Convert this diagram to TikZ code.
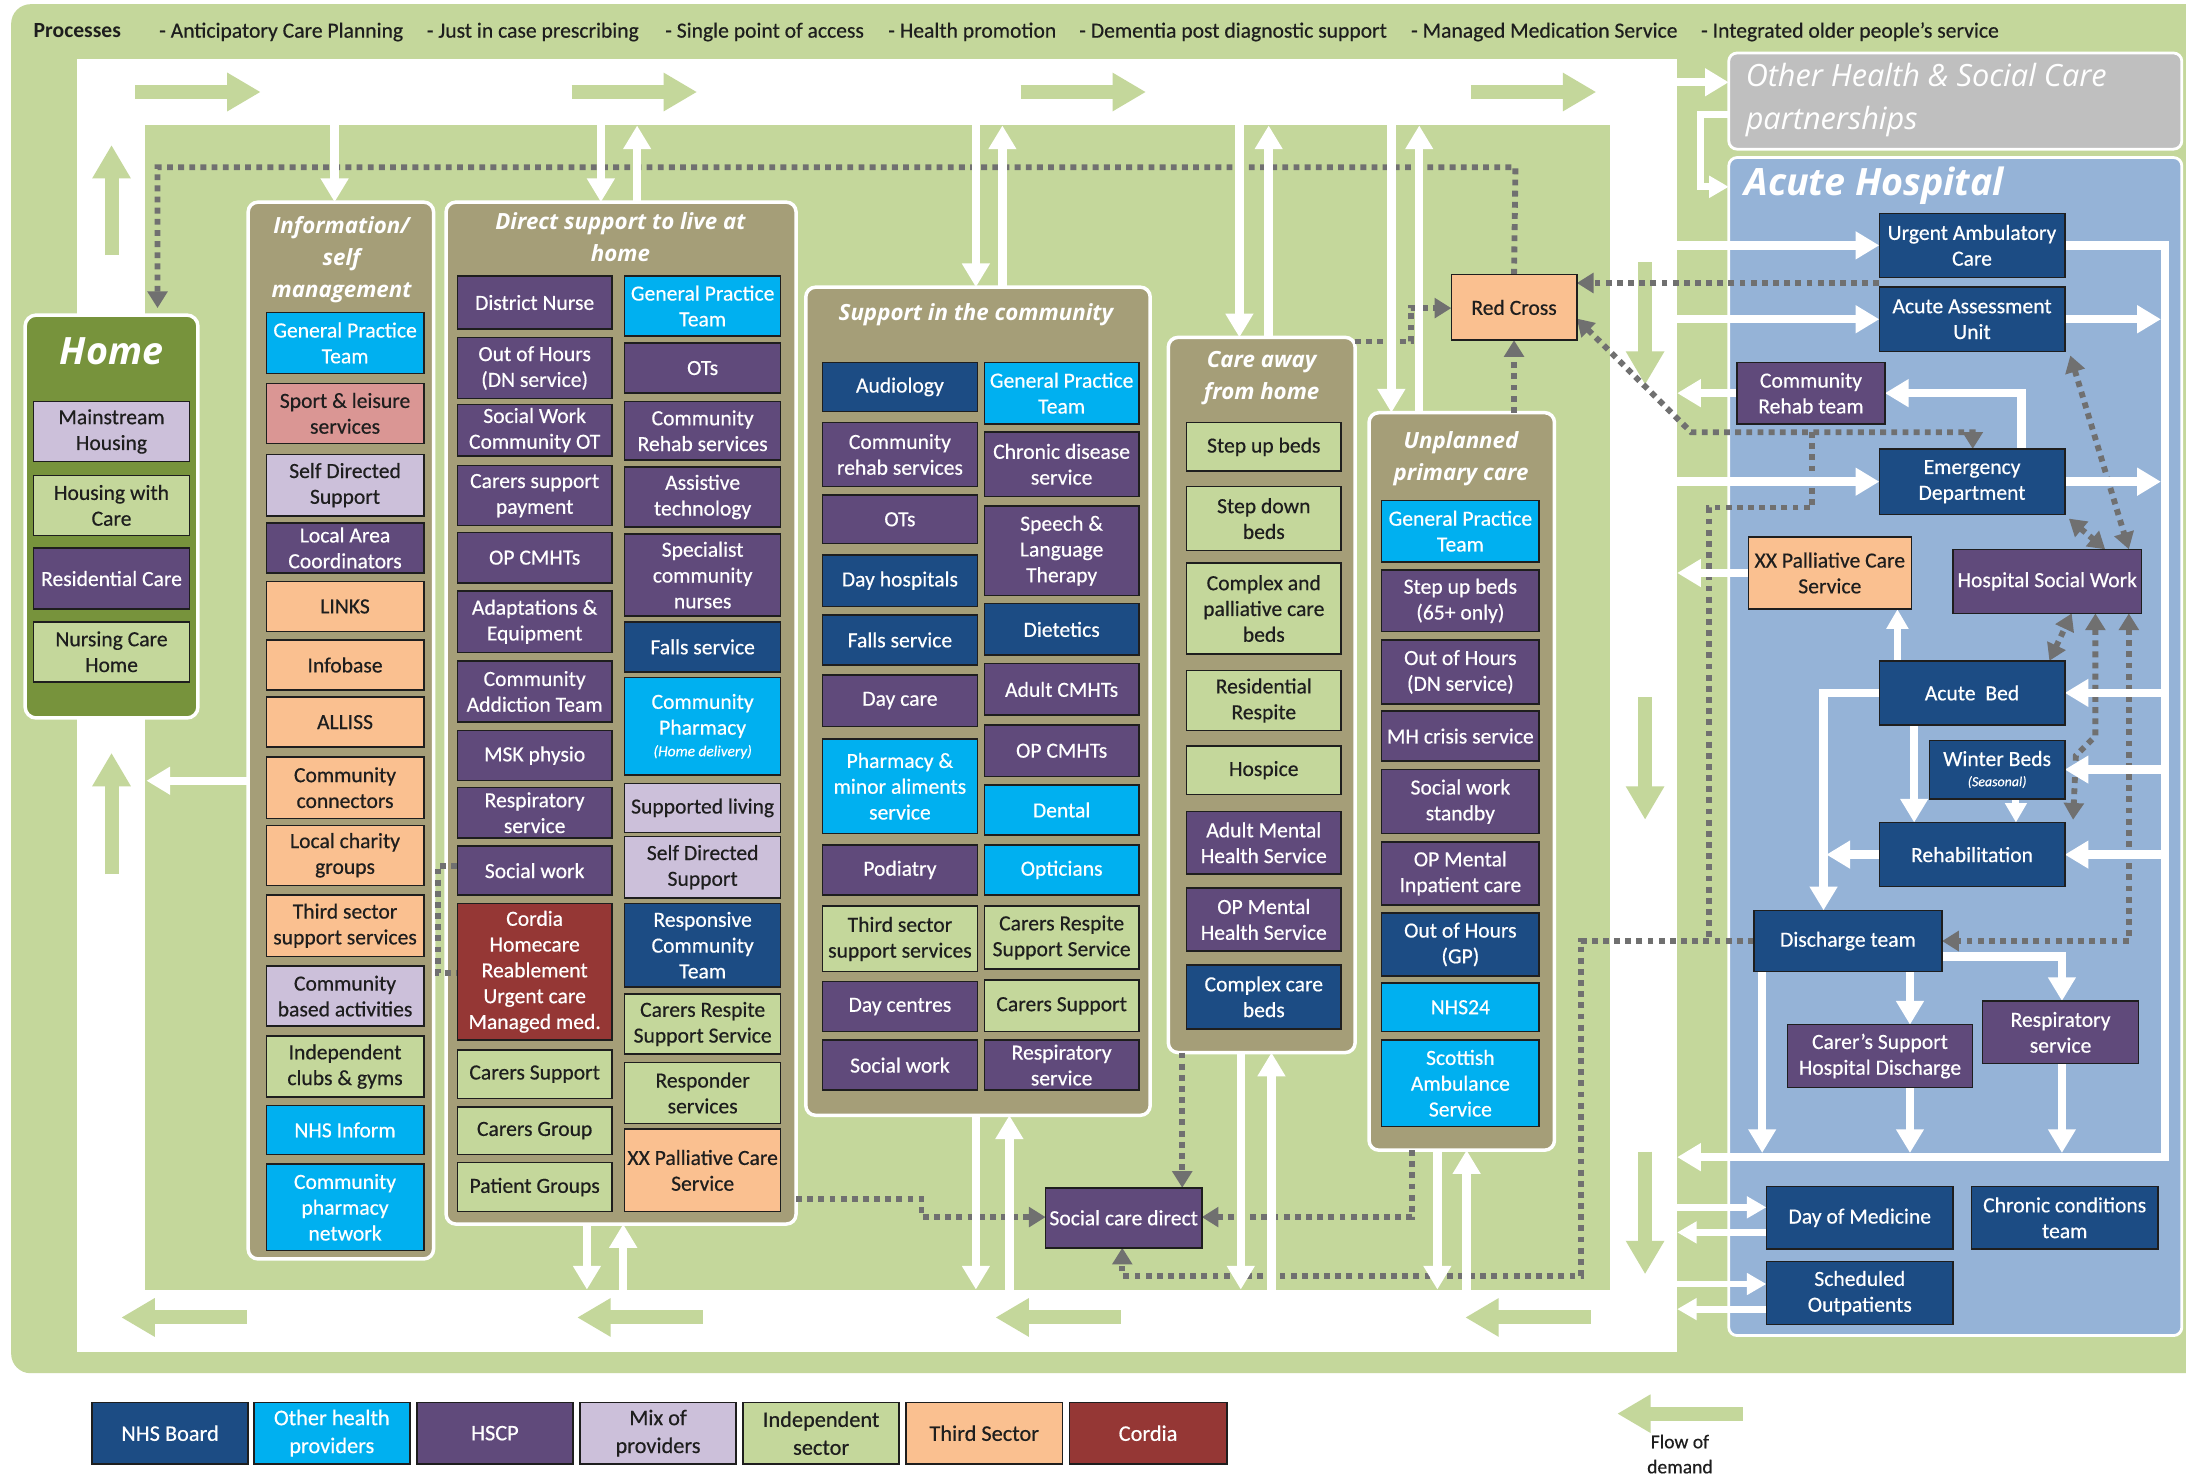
\documentclass[tikz,border=0pt]{standalone}
\usepackage{fontspec}
\setmainfont{Carlito}
\newfontfamily\boxfont{Carlito}[FakeBold=0.45]
\newfontfamily\hdr{Open Sans}
\usetikzlibrary{arrows.meta}
\definecolor{cGrn}{HTML}{C4D79B}
\definecolor{cOlive}{HTML}{77933C}
\definecolor{cTan}{HTML}{A59E78}
\definecolor{cNHS}{HTML}{1C4C84}
\definecolor{cOTH}{HTML}{00B0F0}
\definecolor{cHSCP}{HTML}{604A7B}
\definecolor{cMIX}{HTML}{CCC0DA}
\definecolor{cIND}{HTML}{C4D79B}
\definecolor{cTHIRD}{HTML}{FAC090}
\definecolor{cCOR}{HTML}{953735}
\definecolor{cSPORT}{HTML}{DA9694}
\definecolor{cAcute}{HTML}{95B3D7}
\definecolor{cGray}{HTML}{BFBFBF}
\definecolor{cDot}{HTML}{707070}
\definecolor{cTxt}{HTML}{1E1E1E}
\pgfdeclarelayer{bg}
\pgfdeclarelayer{lines}
\pgfsetlayers{bg,lines,main}
\tikzset{
 base/.style={draw=cTxt, line width=1.1pt, align=center, inner sep=0.5pt, outer sep=0pt, font=\boxfont\fontsize{15.5}{18.5}\selectfont},
 sNHS/.style={base, fill=cNHS, text=white},
 sOTH/.style={base, fill=cOTH, text=white},
 sHSCP/.style={base, fill=cHSCP, text=white},
 sMIX/.style={base, fill=cMIX, text=cTxt},
 sIND/.style={base, fill=cIND, text=cTxt},
 sTHIRD/.style={base, fill=cTHIRD, text=cTxt},
 sCOR/.style={base, fill=cCOR, text=white},
 sSPORT/.style={base, fill=cSPORT, text=cTxt},
 leg/.style={font=\boxfont\fontsize{16}{20}\selectfont},
 colbox/.style={fill=cTan, draw=white, line width=2.5pt, rounded corners=7pt, inner sep=0pt, outer sep=0pt},
 homebox/.style={fill=cOlive, draw=white, line width=2.5pt, rounded corners=8pt, inner sep=0pt, outer sep=0pt},
 acutebox/.style={fill=cAcute, draw=white, line width=2pt, rounded corners=6pt, inner sep=0pt, outer sep=0pt},
 ohscbox/.style={fill=cGray, draw=white, line width=2pt, rounded corners=6pt, inner sep=0pt, outer sep=0pt},
 coltitle/.style={text=white, align=center, font=\hdr\bfseries\itshape\fontsize{16}{23}\selectfont, inner sep=0pt},
 warrow/.style={draw=white, line width=6pt, line join=miter, -{Triangle[width=19pt,length=17pt]}},
 warrowS/.style={draw=white, line width=5pt, -{Triangle[width=15pt,length=14pt]}},
 garrow/.style={draw=cGrn, line width=10pt, -{Triangle[width=26pt,length=24pt]}},
 dotl/.style={draw=cDot, line width=4.2pt, dash pattern=on 4.2pt off 3.8pt},
 dtip/.style={-{Triangle[width=14pt,length=12pt]}},
 dtips/.style={{Triangle[width=14pt,length=12pt]}-{Triangle[width=14pt,length=12pt]}},
 ptxt/.style={anchor=base west, inner sep=0pt, text=cTxt, font=\boxfont\fontsize{15.5}{18}\selectfont},
}
\newcommand\bx[7]{\node[#2, minimum width={(#5)-(#3)}, minimum height={(#6)-(#4)}] (#1) at ({((#3)+(#5))/2},{((#4)+(#6))/2}) {#7};}
\begin{document}
\begin{tikzpicture}[x=1pt,y=-1pt]
\useasboundingbox (0,0) rectangle (1568,1059);
\begin{pgfonlayer}{bg}
\fill[white] (0,0) rectangle (1568,1059);
\fill[cGrn, rounded corners=14pt] (8,3) rectangle (1600,985);
\fill[white] (55,42) rectangle (1203,970);
\fill[cGrn] (104,90) rectangle (1155,925);
% flow arrows
\draw[garrow] (97,66) -- (187,66);
\draw[garrow] (410,66) -- (500,66);
\draw[garrow] (732,66) -- (822,66);
\draw[garrow] (1055,66) -- (1145,66);
\draw[garrow] (80,183) -- (80,104);
\draw[garrow] (80,627) -- (80,540);
\draw[garrow] (177,945) -- (87,945);
\draw[garrow] (504,945) -- (414,945);
\draw[garrow] (804,945) -- (714,945);
\draw[garrow] (1141,945) -- (1051,945);
\draw[garrow] (1180,188) -- (1180,276);
\draw[garrow] (1180,500) -- (1180,588);
\draw[garrow] (1180,826) -- (1180,914);
% containers
\bx{home}{homebox}{18}{226}{142}{515}{}
\bx{colI}{colbox}{178}{145}{311}{903}{}
\bx{colD}{colbox}{320}{145}{571}{878}{}
\bx{colC}{colbox}{578}{206}{825}{800}{}
\bx{colA}{colbox}{838}{242}{972}{755}{}
\bx{colU}{colbox}{982}{296}{1115}{825}{}
\bx{ohsc}{ohscbox}{1240}{38}{1565}{107}{}
\bx{acute}{acutebox}{1240}{113}{1565}{958}{}
\end{pgfonlayer}

% top processes
\node[ptxt, font=\fontsize{15.5}{18}\selectfont\bfseries] (p0) at (24,27) {Processes};
\node[ptxt] (p1) at (114,27) {- Anticipatory Care Planning};
\node[ptxt] (p2) at (306,27) {- Just in case prescribing};
\node[ptxt] (p3) at (477,27) {- Single point of access};
\node[ptxt] (p4) at (637,27) {- Health promotion};
\node[ptxt] (p5) at (774,27) {- Dementia post diagnostic support};
\node[ptxt] (p6) at (1012,27) {- Managed Medication Service};
\node[ptxt] (p7) at (1220,27) {- Integrated older people’s service};

% titles
\node[text=white, inner sep=0pt, font=\hdr\bfseries\itshape\fontsize{27}{30}\selectfont] (thome) at (80,252) {Home};
\node[coltitle] (tI) at (245,186) {Information/\\self\\management};
\node[coltitle] (tD) at (445,170) {Direct support to live at\\home};
\node[coltitle] (tC) at (700,226) {Support in the community};
\node[coltitle] (tA) at (905,271) {Care away\\from home};
\node[coltitle] (tU) at (1048,329) {Unplanned\\primary care};
\node[anchor=west, inner sep=0pt, text=white, align=left, font=\hdr\itshape\fontsize{22}{31}\selectfont] (tOH) at (1252,72) {Other Health \& Social Care\\partnerships};
\node[anchor=west, inner sep=0pt, text=white, font=\hdr\bfseries\itshape\fontsize{27}{30}\selectfont] (tAH) at (1251,133) {Acute Hospital};

% Home
\bx{hm1}{sMIX}{24}{288}{136}{331}{Mainstream\\Housing}
\bx{hm2}{sIND}{24}{341}{136}{384}{Housing with\\Care}
\bx{hm3}{sHSCP}{24}{393}{136}{437}{Residential Care}
\bx{hm4}{sIND}{24}{446}{136}{489}{Nursing Care\\Home}

% Information
\bx{i1}{sOTH}{191}{224}{304}{268}{General Practice\\Team}
\bx{i2}{sSPORT}{191}{275}{304}{318}{Sport \& leisure\\services}
\bx{i3}{sMIX}{191}{326}{304}{370}{Self Directed\\Support}
\bx{i4}{sHSCP}{191}{375}{304}{411}{Local Area\\Coordinators}
\bx{i5}{sTHIRD}{191}{417}{304}{453}{LINKS}
\bx{i6}{sTHIRD}{191}{459}{304}{495}{Infobase}
\bx{i7}{sTHIRD}{191}{500}{304}{536}{ALLISS}
\bx{i8}{sTHIRD}{191}{543}{304}{587}{Community\\connectors}
\bx{i9}{sTHIRD}{191}{592}{304}{635}{Local charity\\groups}
\bx{i10}{sTHIRD}{191}{642}{304}{686}{Third sector\\support services}
\bx{i11}{sMIX}{191}{693}{304}{736}{Community\\based activities}
\bx{i12}{sIND}{191}{743}{304}{787}{Independent\\clubs \& gyms}
\bx{i13}{sOTH}{191}{793}{304}{828}{NHS Inform}
\bx{i14}{sOTH}{191}{835}{304}{897}{Community\\pharmacy\\network}

% Direct support left
\bx{d1}{sHSCP}{328}{198}{439}{236}{District Nurse}
\bx{d2}{sHSCP}{328}{242}{439}{286}{Out of Hours\\(DN service)}
\bx{d3}{sHSCP}{328}{290}{439}{327}{Social Work\\Community OT}
\bx{d4}{sHSCP}{328}{334}{439}{377}{Carers support\\payment}
\bx{d5}{sHSCP}{328}{382}{439}{418}{OP CMHTs}
\bx{d6}{sHSCP}{328}{424}{439}{468}{Adaptations \&\\Equipment}
\bx{d7}{sHSCP}{328}{474}{439}{518}{Community\\Addiction Team}
\bx{d8}{sHSCP}{328}{524}{439}{560}{MSK physio}
\bx{d9}{sHSCP}{328}{565}{439}{601}{Respiratory\\service}
\bx{d10}{sHSCP}{328}{607}{439}{642}{Social work}
\bx{d11}{sCOR}{328}{648}{439}{746}{Cordia\\Homecare\\Reablement\\Urgent care\\Managed med.}
\bx{d12}{sIND}{328}{753}{439}{788}{Carers Support}
\bx{d13}{sIND}{328}{794}{439}{828}{Carers Group}
\bx{d14}{sIND}{328}{834}{439}{869}{Patient Groups}
% Direct support right
\bx{e1}{sOTH}{448}{198}{560}{241}{General Practice\\Team}
\bx{e2}{sHSCP}{448}{246}{560}{282}{OTs}
\bx{e3}{sHSCP}{448}{288}{560}{330}{Community\\Rehab services}
\bx{e4}{sHSCP}{448}{335}{560}{378}{Assistive\\technology}
\bx{e5}{sHSCP}{448}{383}{560}{442}{Specialist\\community\\nurses}
\bx{e6}{sNHS}{448}{446}{560}{482}{Falls service}
\bx{e7}{sOTH}{448}{486}{560}{556}{Community\\Pharmacy\\[-3pt]{\fontsize{11}{12}\selectfont\itshape (Home delivery)}}
\bx{e8}{sMIX}{448}{562}{560}{597}{Supported living}
\bx{e9}{sMIX}{448}{600}{560}{644}{Self Directed\\Support}
\bx{e10}{sNHS}{448}{648}{560}{708}{Responsive\\Community\\Team}
\bx{e11}{sIND}{448}{713}{560}{756}{Carers Respite\\Support Service}
\bx{e12}{sIND}{448}{762}{560}{806}{Responder\\services}
\bx{e13}{sTHIRD}{448}{810}{560}{869}{XX Palliative Care\\Service}

% Community left
\bx{c1}{sNHS}{590}{260}{701}{295}{Audiology}
\bx{c2}{sHSCP}{590}{303}{701}{349}{Community\\rehab services}
\bx{c3}{sHSCP}{590}{355}{701}{390}{OTs}
\bx{c4}{sNHS}{590}{398}{701}{435}{Day hospitals}
\bx{c5}{sNHS}{590}{441}{701}{477}{Falls service}
\bx{c6}{sHSCP}{590}{484}{701}{521}{Day care}
\bx{c7}{sOTH}{590}{530}{701}{598}{Pharmacy \&\\minor aliments\\service}
\bx{c8}{sHSCP}{590}{606}{701}{642}{Podiatry}
\bx{c9}{sIND}{590}{650}{701}{697}{Third sector\\support services}
\bx{c10}{sHSCP}{590}{704}{701}{740}{Day centres}
\bx{c11}{sHSCP}{590}{746}{701}{782}{Social work}
% Community right
\bx{k1}{sOTH}{706}{260}{817}{304}{General Practice\\Team}
\bx{k2}{sHSCP}{706}{310}{817}{356}{Chronic disease\\service}
\bx{k3}{sHSCP}{706}{363}{817}{427}{Speech \&\\Language\\Therapy}
\bx{k4}{sNHS}{706}{433}{817}{470}{Dietetics}
\bx{k5}{sHSCP}{706}{476}{817}{513}{Adult CMHTs}
\bx{k6}{sHSCP}{706}{520}{817}{557}{OP CMHTs}
\bx{k7}{sOTH}{706}{563}{817}{599}{Dental}
\bx{k8}{sOTH}{706}{606}{817}{642}{Opticians}
\bx{k9}{sIND}{706}{650}{817}{695}{Carers Respite\\Support Service}
\bx{k10}{sIND}{706}{703}{817}{740}{Carers Support}
\bx{k11}{sHSCP}{706}{746}{817}{782}{Respiratory\\service}

% Care away from home
\bx{a1}{sIND}{851}{303}{962}{338}{Step up beds}
\bx{a2}{sIND}{851}{349}{962}{395}{Step down\\beds}
\bx{a3}{sIND}{851}{404}{962}{469}{Complex and\\palliative care\\beds}
\bx{a4}{sIND}{851}{481}{962}{524}{Residential\\Respite}
\bx{a5}{sIND}{851}{535}{962}{570}{Hospice}
\bx{a6}{sHSCP}{851}{582}{962}{627}{Adult Mental\\Health Service}
\bx{a7}{sHSCP}{851}{637}{962}{682}{OP Mental\\Health Service}
\bx{a8}{sNHS}{851}{692}{962}{738}{Complex care\\beds}

% Unplanned primary care
\bx{u1}{sOTH}{991}{359}{1104}{403}{General Practice\\Team}
\bx{u2}{sHSCP}{991}{409}{1104}{453}{Step up beds\\(65+ only)}
\bx{u3}{sHSCP}{991}{459}{1104}{505}{Out of Hours\\(DN service)}
\bx{u4}{sHSCP}{991}{510}{1104}{546}{MH crisis service}
\bx{u5}{sHSCP}{991}{552}{1104}{598}{Social work\\standby}
\bx{u6}{sHSCP}{991}{604}{1104}{649}{OP Mental\\Inpatient care}
\bx{u7}{sNHS}{991}{655}{1104}{700}{Out of Hours\\(GP)}
\bx{u8}{sOTH}{991}{705}{1104}{740}{NHS24}
\bx{u9}{sOTH}{991}{746}{1104}{808}{Scottish\\Ambulance\\Service}

\bx{rc}{sTHIRD}{1041}{197}{1131}{244}{Red Cross}
\bx{scd}{sHSCP}{750}{852}{862}{895}{Social care direct}

% Acute hospital
\bx{uac}{sNHS}{1348}{153}{1481}{199}{Urgent Ambulatory\\Care}
\bx{aau}{sNHS}{1348}{206}{1481}{252}{Acute Assessment\\Unit}
\bx{crt}{sHSCP}{1246}{260}{1352}{304}{Community\\Rehab team}
\bx{ed}{sNHS}{1348}{322}{1481}{369}{Emergency\\Department}
\bx{pal}{sTHIRD}{1254}{385}{1371}{437}{XX Palliative Care\\Service}
\bx{hsw}{sHSCP}{1401}{394}{1536}{440}{Hospital Social Work}
\bx{ab}{sNHS}{1348}{474}{1481}{520}{Acute\ \ Bed}
\bx{wb}{sNHS}{1384}{531}{1481}{573}{Winter Beds\\[-4pt]{\fontsize{10}{11}\selectfont\itshape (Seasonal)}}
\bx{rehab}{sNHS}{1348}{590}{1481}{636}{Rehabilitation}
\bx{dis}{sNHS}{1258}{653}{1393}{697}{Discharge team}
\bx{cs}{sHSCP}{1282}{735}{1415}{780}{Carer’s Support\\Hospital Discharge}
\bx{resp}{sHSCP}{1422}{718}{1534}{763}{Respiratory\\service}
\bx{dom}{sNHS}{1267}{851}{1401}{896}{Day of Medicine}
\bx{cct}{sNHS}{1414}{851}{1548}{896}{Chronic conditions\\team}
\bx{so}{sNHS}{1267}{905}{1401}{950}{Scheduled\\Outpatients}

% Legend
\bx{L1}{sNHS,leg}{66}{1006}{178}{1050}{NHS Board}
\bx{L2}{sOTH,leg}{182}{1006}{294}{1050}{Other health\\providers}
\bx{L3}{sHSCP,leg}{299}{1006}{411}{1050}{HSCP}
\bx{L4}{sMIX,leg}{416}{1006}{528}{1050}{Mix of\\providers}
\bx{L5}{sIND,leg}{533}{1006}{645}{1050}{Independent\\sector}
\bx{L6}{sTHIRD,leg}{650}{1006}{762}{1050}{Third Sector}
\bx{L7}{sCOR,leg}{767}{1006}{880}{1050}{Cordia}
\draw[garrow] (1250,1014) -- (1160,1014);
\node[align=center, inner sep=0pt, text=cTxt, font=\boxfont\fontsize{14}{18}\selectfont] (flow) at (1205,1043) {Flow of\\demand};

\begin{pgfonlayer}{lines}
% ---- dotted connectors
\coordinate (dTL) at (113,120);
\coordinate (dTR) at (1087,120);
\draw[dotl,dtip,shorten >=5pt] (rc.north) -- (dTR) -- (dTL) -- (dTL |- home.north);
\coordinate (ca1) at (1012,245);
\coordinate (ca2) at (1012,221);
\draw[dotl,dtip] (colA.east |- ca1) -- (ca1) -- (ca2) -- (ca2 -| rc.west);
\draw[dotl,dtip] (colU.north -| rc.south) -- (rc.south);
\coordinate (aa1) at (1348,203);
\draw[dotl,dtip] (aa1) -- (aa1 -| rc.east);
\coordinate (rd1) at (1213,310);
\coordinate (rd2) at (1415,310);
\draw[dotl,dtips] ([yshift=-8pt]rc.east) -- (rd1) -- (rd2) -- (rd2 |- ed.north);
\coordinate (br1) at (1300,310);
\coordinate (br2) at (1300,364);
\coordinate (br3) at (1226,364);
\coordinate (br4) at (1226,675);
\draw[dotl] (br1) -- (br2) -- (br3) -- (br4);
\coordinate (sd1) at (1134,675);
\coordinate (sd2) at (1134,915);
\coordinate (sd3) at (805,915);
\draw[dotl,dtip] (dis.west) -- (sd1) -- (sd2) -- (sd3) -- (sd3 |- scd.south);
\coordinate (cs1) at (848,0);
\draw[dotl,dtip] (colA.south -| cs1) -- (scd.north -| cs1);
\coordinate (us1) at (1013,873);
\draw[dotl,dtip] (colU.south -| us1) -- (us1) -- (us1 -| scd.east);
\coordinate (ds1) at (661,860);
\coordinate (ds2) at (661,873);
\draw[dotl,dtip] (colD.east |- ds1) -- (ds1) -- (ds2) -- (ds2 -| scd.west);
\coordinate (bk1) at (314,621);
\coordinate (bk2) at (314,698);
\draw[dotl] (d10.west |- bk1) -- (bk1) -- (bk2) -- (bk2 -| d11.west);
% acute dotted
\coordinate (hw1) at (1527,0);
\coordinate (hw2) at (1510,0);
\coordinate (hw3) at (1470,0);
\coordinate (hw4) at (1486,0);
\draw[dotl,dtips] ([xshift=4pt,yshift=-3pt]aau.south east) -- (hsw.north -| hw1);
\draw[dotl,dtips] ([xshift=3pt,yshift=-3pt]ed.south east) -- (hsw.north -| hw2);
\draw[dotl,dtips] (ab.north -| hw3) -- (hsw.south -| hw4);
\coordinate (hr1) at (1503,528);
\coordinate (hr2) at (1489,542);
\coordinate (hr3) at (1487,588);
\draw[dotl,dtips] (hsw.south -| hr1) -- (hr1) -- (hr2) -- (hr3);
\coordinate (hd1) at (1527,675);
\draw[dotl,dtips] (hsw.south -| hd1) -- (hd1) -- (hd1 -| dis.east);

% ---- white connectors, columns
\coordinate (a1) at (240,90);
\draw[warrow] (a1) -- (a1 |- colI.north);
\coordinate (a2) at (431,90);
\draw[warrow] (a2) -- (a2 |- colD.north);
\coordinate (a3) at (457,90);
\draw[warrow] (a3 |- colD.north) -- (a3);
\coordinate (a4) at (700,90);
\draw[warrow] (a4) -- (a4 |- colC.north);
\coordinate (a5) at (719,90);
\draw[warrow] (a5 |- colC.north) -- (a5);
\coordinate (a6) at (889,90);
\draw[warrow] (a6) -- (a6 |- colA.north);
\coordinate (a7) at (910,90);
\draw[warrow] (a7 |- colA.north) -- (a7);
\coordinate (a8) at (998,90);
\draw[warrow] (a8) -- (a8 |- colU.north);
\coordinate (a9) at (1018,90);
\draw[warrow] (a9 |- colU.north) -- (a9);
\coordinate (b1) at (421,925);
\draw[warrow] (colD.south -| b1) -- (b1);
\coordinate (b2) at (447,925);
\draw[warrow] (b2) -- (colD.south -| b2);
\coordinate (b3) at (700,925);
\draw[warrow] (colC.south -| b3) -- (b3);
\coordinate (b4) at (724,925);
\draw[warrow] (b4) -- (colC.south -| b4);
\coordinate (b5) at (890,925);
\draw[warrow] (colA.south -| b5) -- (b5);
\coordinate (b6) at (912,925);
\draw[warrow] (b6) -- (colA.south -| b6);
\coordinate (b7) at (1031,925);
\draw[warrow] (colU.south -| b7) -- (b7);
\coordinate (b8) at (1052,925);
\draw[warrow] (b8) -- (colU.south -| b8);
\coordinate (l1) at (105,560);
\draw[warrow] (colI.west |- l1) -- (l1);

% ---- white connectors, right side
\coordinate (oh0) at (1203,59);
\draw[warrow] (oh0) -- (oh0 -| ohsc.west);
\coordinate (oh1) at (1220,82);
\coordinate (oh2) at (1220,134);
\draw[warrowS] (oh1 -| ohsc.west) -- (oh1) -- (oh2) -- (oh2 -| acute.west);
\coordinate (r0) at (1203,0);
\draw[warrow] (uac.west -| r0) -- (uac.west);
\draw[warrow] (aau.west -| r0) -- (aau.west);
\draw[warrow] (ed.west -| r0) -- (ed.west);
\draw[warrow] (crt.west) -- (crt.west -| r0);
\draw[warrow] (pal.west) -- (pal.west -| r0);
\coordinate (rv1) at (1553,830);
\coordinate (rv2) at (1203,830);
\draw[warrow] (uac.east) -- (uac.east -| rv1) -- (rv1) -- (rv2);
\draw[warrow, shorten >=3pt] (aau.east) -- (aau.east -| rv1);
\draw[warrow, shorten >=3pt] (ed.east) -- (ed.east -| rv1);
\draw[warrow] (ab.east -| rv1) -- (ab.east);
\draw[warrow] (wb.east -| rv1) -- (wb.east);
\draw[warrow] (rehab.east -| rv1) -- (rehab.east);
\coordinate (ec) at (1450,0);
\draw[warrow] (ed.north -| ec) -- (ec |- crt.east) -- (crt.east);
\coordinate (ap) at (1361,0);
\draw[warrowS] (ab.north -| ap) -- (pal.south -| ap);
\coordinate (ad) at (1308,0);
\draw[warrow] (ab.west) -- (ab.west -| ad) -- (dis.north -| ad);
\coordinate (ar) at (1373,0);
\draw[warrow] (ab.south -| ar) -- (rehab.north -| ar);
\coordinate (wr) at (1446,0);
\draw[warrowS] (wb.south -| wr) -- (rehab.north -| wr);
\draw[warrow, shorten >=2pt] (rehab.west) -- (rehab.west -| ad);
\coordinate (dc) at (1370,0);
\draw[warrow] (dis.south -| dc) -- (cs.north -| dc);
\coordinate (dr) at (1479,686);
\draw[warrow] (dis.east |- dr) -- (dr) -- (dr |- resp.north);
\coordinate (db) at (1264,827);
\draw[warrow] (dis.south -| db) -- (db);
\draw[warrow] (cs.south -| dc) -- (dc |- db);
\draw[warrow] (resp.south -| dr) -- (dr |- db);
\coordinate (m1) at (1203,866);
\coordinate (m2) at (1203,884);
\coordinate (m3) at (1203,921);
\coordinate (m4) at (1203,939);
\draw[warrowS] (m1) -- (m1 -| dom.west);
\draw[warrowS] (m2 -| dom.west) -- (m2);
\draw[warrowS] (m3) -- (m3 -| so.west);
\draw[warrowS] (m4 -| so.west) -- (m4);
\end{pgfonlayer}
\end{tikzpicture}
\end{document}
